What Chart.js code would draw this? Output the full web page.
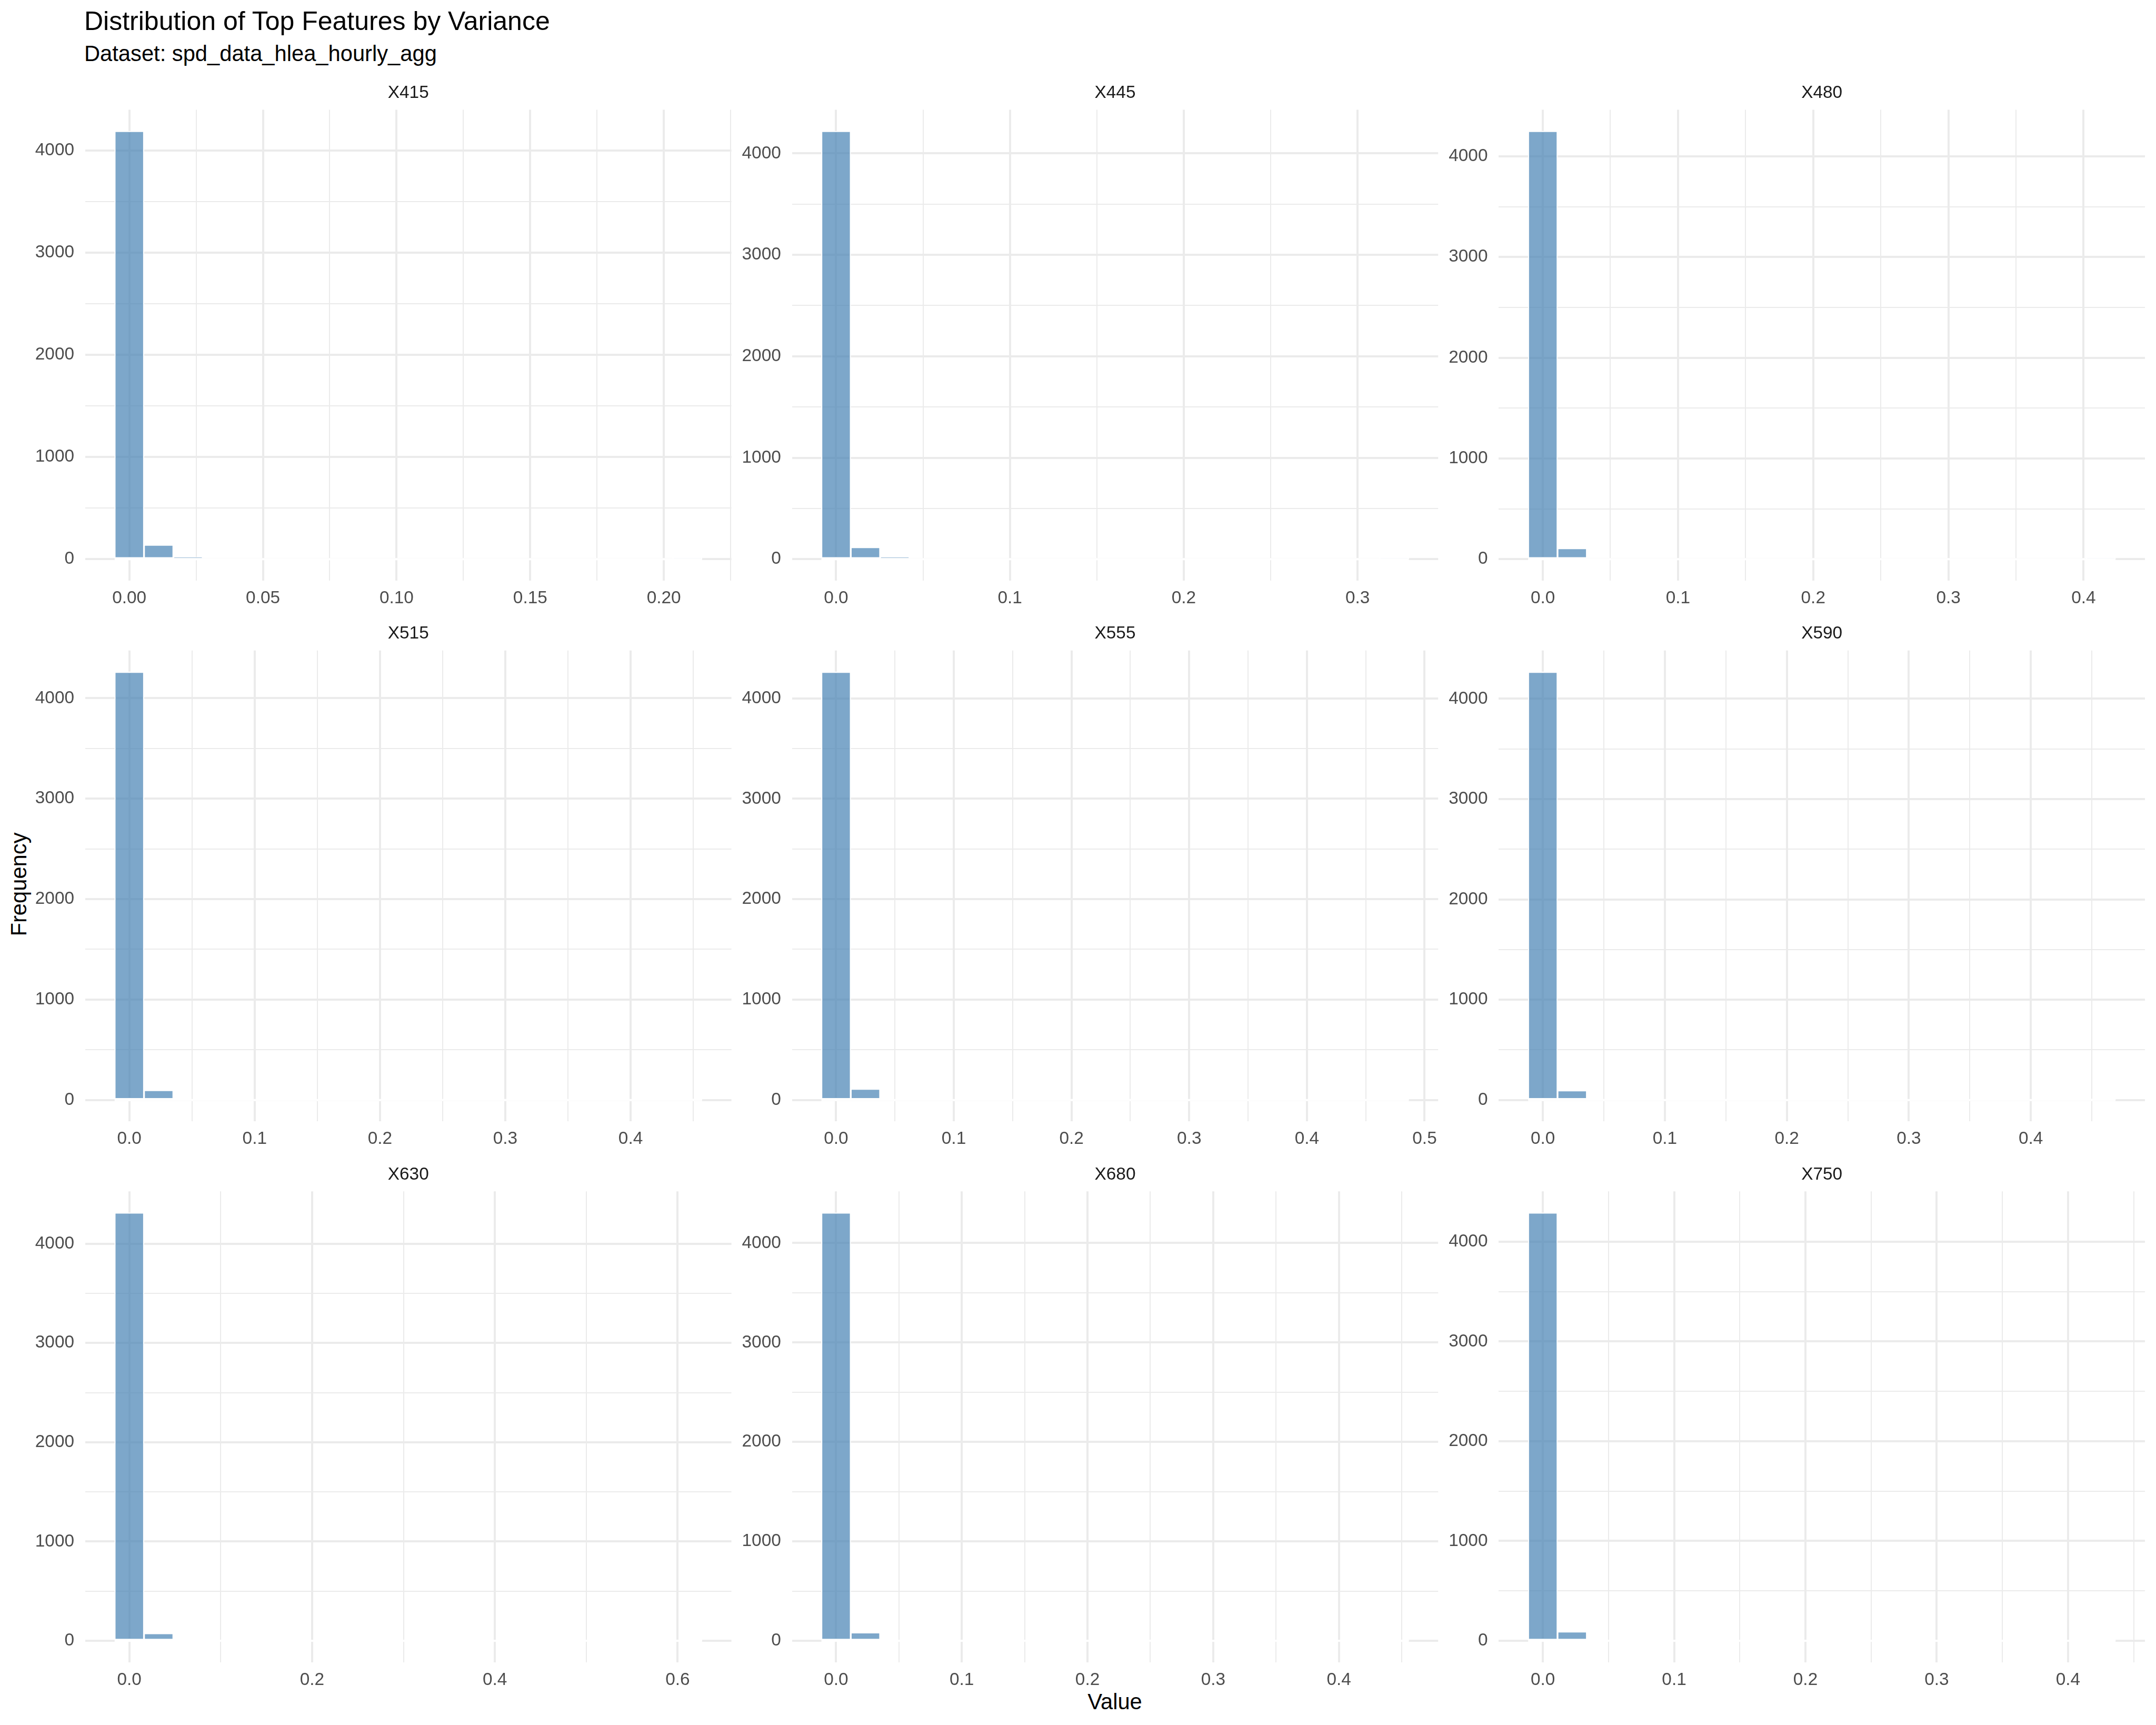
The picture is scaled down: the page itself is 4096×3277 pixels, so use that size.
<!DOCTYPE html>
<html>
<head>
<meta charset="utf-8">
<script src="https://cdn.jsdelivr.net/npm/chart.js@4.4.1/dist/chart.umd.min.js"></script>
<style>
  html, body { margin: 0; padding: 0; background: #ffffff; }
  #root { position: relative; width: 4096px; height: 3277px; overflow: hidden; background: #ffffff;
          font-family: 'Liberation Sans', Arial, Helvetica, sans-serif; }
  .txt { position: absolute; white-space: nowrap; line-height: 1; color: #000000; }
  canvas { position: absolute; }
</style>
</head>
<body>
<div id="root">
  <div class="txt" id="title" style="left:160px; top:15.2px; font-size:50px;">Distribution of Top Features by Variance</div>
  <div class="txt" id="subtitle" style="left:160px; top:81.4px; font-size:41.7px;">Dataset: spd_data_hlea_hourly_agg</div>
  <div class="txt" id="xtitle" style="left:2118px; top:3212.4px; font-size:41.7px; transform:translateX(-50%);">Value</div>
  <div class="txt" id="ytitle" style="left:35.8px; top:1680px; font-size:41.7px; transform:translate(-50%,-50%) rotate(-90deg);">Frequency</div>
</div>
<script>
// ---------------- data ----------------
const features = ['X415', 'X445', 'X480', 'X515', 'X555', 'X590', 'X630', 'X680', 'X750'];

// centre of the last of the 20 histogram bins (= maximum value) for each feature
const binMaxValues = [0.2088, 0.3210, 0.4128, 0.4453, 0.4741, 0.4574, 0.6106, 0.4439, 0.4250];

// counts of the 20 bins of each histogram
const countsX415 = [4190, 140, 20, 0, 0, 0, 0, 0, 0, 0, 0, 0, 0, 0, 0, 0, 0, 0, 0, 1];
const countsX445 = [4220, 118, 20, 0, 0, 0, 0, 0, 0, 0, 0, 0, 0, 0, 0, 0, 0, 0, 0, 1];
const countsX480 = [4250, 108, 0, 0, 0, 0, 0, 0, 0, 0, 0, 0, 0, 0, 0, 0, 0, 0, 0, 1];
const countsX515 = [4262, 97, 0, 0, 0, 0, 0, 0, 0, 0, 0, 0, 0, 0, 0, 0, 0, 0, 0, 1];
const countsX555 = [4263, 110, 0, 0, 0, 0, 0, 0, 0, 0, 0, 0, 0, 0, 0, 0, 0, 0, 0, 1];
const countsX590 = [4268, 95, 0, 0, 0, 0, 0, 0, 0, 0, 0, 0, 0, 0, 0, 0, 0, 0, 0, 1];
const countsX630 = [4312, 76, 0, 0, 0, 0, 0, 0, 0, 0, 0, 0, 0, 0, 0, 0, 0, 0, 0, 1];
const countsX680 = [4305, 83, 0, 0, 0, 0, 0, 0, 0, 0, 0, 0, 0, 0, 0, 0, 0, 0, 0, 1];
const countsX750 = [4290, 92, 0, 0, 0, 0, 0, 0, 0, 0, 0, 0, 0, 0, 0, 0, 0, 0, 0, 1];
const allCounts = [countsX415, countsX445, countsX480, countsX515, countsX555, countsX590, countsX630, countsX680, countsX750];

// x tick labels (major) and minor grid positions per panel
const xLabelsX415 = ['0.00', '0.05', '0.10', '0.15', '0.20'];
const xLabelsX445 = ['0.0', '0.1', '0.2', '0.3'];
const xLabelsX480 = ['0.0', '0.1', '0.2', '0.3', '0.4'];
const xLabelsX515 = ['0.0', '0.1', '0.2', '0.3', '0.4'];
const xLabelsX555 = ['0.0', '0.1', '0.2', '0.3', '0.4', '0.5'];
const xLabelsX590 = ['0.0', '0.1', '0.2', '0.3', '0.4'];
const xLabelsX630 = ['0.0', '0.2', '0.4', '0.6'];
const xLabelsX680 = ['0.0', '0.1', '0.2', '0.3', '0.4'];
const xLabelsX750 = ['0.0', '0.1', '0.2', '0.3', '0.4'];
const allXLabels = [xLabelsX415, xLabelsX445, xLabelsX480, xLabelsX515, xLabelsX555, xLabelsX590, xLabelsX630, xLabelsX680, xLabelsX750];

const xMinorX415 = [0.025, 0.075, 0.125, 0.175, 0.225];
const xMinorX445 = [0.05, 0.15, 0.25];
const xMinorX480 = [0.05, 0.15, 0.25, 0.35];
const xMinorX515 = [0.05, 0.15, 0.25, 0.35, 0.45];
const xMinorX555 = [0.05, 0.15, 0.25, 0.35, 0.45];
const xMinorX590 = [0.05, 0.15, 0.25, 0.35, 0.45];
const xMinorX630 = [0.1, 0.3, 0.5];
const xMinorX680 = [0.05, 0.15, 0.25, 0.35, 0.45];
const xMinorX750 = [0.05, 0.15, 0.25, 0.35, 0.45];
const allXMinor = [xMinorX415, xMinorX445, xMinorX480, xMinorX515, xMinorX555, xMinorX590, xMinorX630, xMinorX680, xMinorX750];

const yLabels = ['0', '1000', '2000', '3000', '4000'];
const yMinor = [500, 1500, 2500, 3500];

// ---------------- layout / style ----------------
const S = 0.91;
const FONT = "'Liberation Sans', Arial, Helvetica, sans-serif";
Chart.defaults.font.family = FONT;
Chart.defaults.color = '#4D4D4D';

const panelLeftFull = [178, 1653.5, 3129];
const panelTopFull = [229, 1358, 2487];
const PANEL_W = 1349 * S, PANEL_H = 983 * S;
const Y_AXIS_W = 155, STRIP_H = 64, X_AXIS_H = 73, PAD_R = 18;
const tickFont = 36.7 * S;
const stripFont = 36.7 * S;
const majorLW = 4.44 * S, minorLW = 2.22 * S;
const barFill = 'rgba(70,130,180,0.7)';

function buildTicks(labels, minors) {
  const t = labels.map(s => ({ value: parseFloat(s), text: s, minor: false }))
    .concat(minors.map(v => ({ value: v, text: '', minor: true })));
  t.sort((a, b) => a.value - b.value);
  return t;
}

const root = document.getElementById('root');

features.forEach((name, i) => {
  const r = Math.floor(i / 3), c = i % 3;
  const areaL = panelLeftFull[c] * S, areaT = panelTopFull[r] * S;
  const cl = Math.floor(areaL - Y_AXIS_W), ct = Math.floor(areaT - STRIP_H);
  const yW = areaL - cl, sH = areaT - ct;
  const cw = Math.ceil(yW + PANEL_W + PAD_R);
  const chh = Math.ceil(sH + PANEL_H + X_AXIS_H);
  const padRight = cw - yW - PANEL_W;
  const xH = chh - sH - PANEL_H;

  const canvas = document.createElement('canvas');
  canvas.width = cw; canvas.height = chh;
  canvas.style.left = cl + 'px'; canvas.style.top = ct + 'px';
  canvas.style.width = cw + 'px'; canvas.style.height = chh + 'px';
  root.appendChild(canvas);

  const counts = allCounts[i];
  const bm = binMaxValues[i];
  const w = bm / (counts.length - 1);
  const mx = Math.max(...counts);
  const xt = buildTicks(allXLabels[i], allXMinor[i]);
  const yt = buildTicks(yLabels, yMinor);

  const lineH = stripFont * 1.2;
  const titlePadTop = sH - 35 * S - lineH / 2;
  const titlePadBottom = sH - titlePadTop - lineH;

  new Chart(canvas, {
    type: 'bar',
    data: {
      datasets: [
        {
          type: 'bar',
          label: name,
          data: counts.map((v, k) => ({ x: k * w, y: v })),
          backgroundColor: barFill,
          borderColor: '#FFFFFF',
          borderWidth: majorLW / 2,
          borderSkipped: false,
          barPercentage: 1,
          categoryPercentage: 1,
          order: 1
        },
        {
          type: 'line',
          label: name + ' base',
          data: [{ x: -w / 2, y: 0 }, { x: bm + w / 2, y: 0 }],
          borderColor: '#FFFFFF',
          borderWidth: majorLW,
          pointRadius: 0,
          fill: false,
          order: 0
        }
      ]
    },
    options: {
      responsive: false,
      animation: false,
      devicePixelRatio: 1,
      layout: { padding: { left: 0, top: 0, right: padRight, bottom: 0 } },
      plugins: {
        legend: { display: false },
        tooltip: { enabled: false },
        title: {
          display: true, text: name, fullSize: false, color: '#1A1A1A',
          font: { size: stripFont, weight: 'normal', family: FONT, lineHeight: 1.2 },
          padding: { top: titlePadTop, bottom: titlePadBottom }
        }
      },
      scales: {
        x: {
          type: 'linear', offset: false,
          min: -1.5 * w, max: 20.5 * w,
          grid: {
            offset: false, drawTicks: false, color: '#EBEBEB',
            lineWidth: ctx => (ctx.tick && ctx.tick.minor) ? minorLW : majorLW
          },
          border: { display: false },
          ticks: {
            padding: 13.6, color: '#4D4D4D', autoSkip: false, maxRotation: 0, minRotation: 0,
            font: { size: tickFont, family: FONT },
            callback: (v, idx, ticks) => ticks[idx].text
          },
          afterBuildTicks: sc => { sc.ticks = xt.map(o => Object.assign({}, o)); },
          afterFit: sc => { sc.height = xH; }
        },
        y: {
          type: 'linear',
          min: -0.05 * mx, max: 1.05 * mx,
          grid: {
            drawTicks: false, color: '#EBEBEB',
            lineWidth: ctx => (ctx.tick && ctx.tick.minor) ? minorLW : majorLW
          },
          border: { display: false },
          ticks: {
            padding: 23 * S, color: '#4D4D4D', autoSkip: false,
            font: { size: tickFont, family: FONT },
            callback: (v, idx, ticks) => ticks[idx].text
          },
          afterBuildTicks: sc => { sc.ticks = yt.map(o => Object.assign({}, o)); },
          afterFit: sc => { sc.width = yW; }
        }
      }
    }
  });
});
</script>
</body>
</html>
